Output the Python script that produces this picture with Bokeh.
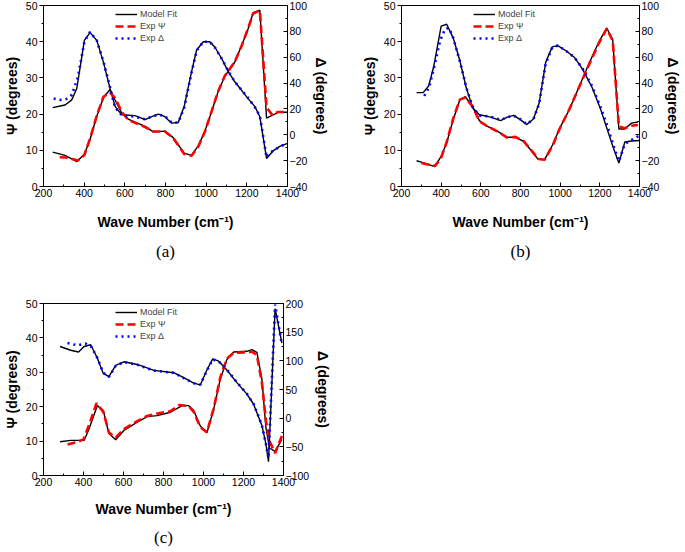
from bokeh.plotting import figure
from bokeh.models import Range1d, LinearAxis, SingleIntervalTicker, Legend, LegendItem, Title
from bokeh.layouts import row, column
from bokeh.embed import file_html
from bokeh.resources import INLINE

# ---------------- Panel (a) ----------------
a_psi_fit_x = [245, 306, 364, 401, 429, 462, 495, 527, 552, 585, 617, 650, 700, 740, 797, 838, 892, 928,
               961, 994, 1027, 1059, 1092, 1141, 1174, 1206, 1231, 1264, 1297, 1354, 1400]
a_psi_fit = [9.5, 8.6, 6.9, 8.9, 13.0, 19.4, 24.6, 26.8, 23.9, 20.3, 18.6, 17.8, 16.6, 15.1, 15.3, 13.5, 9.2, 8.6,
             11.2, 15.3, 20.7, 26.2, 30.5, 34.4, 38.9, 43.5, 48.0, 48.7, 18.9, 20.5, 20.5]
a_psi_exp_x = [280, 310, 340, 370, 401, 429, 462, 495, 527, 552, 585, 617, 650, 700, 740, 797, 838, 892, 928,
               961, 994, 1027, 1059, 1092, 1141, 1174, 1206, 1231, 1264, 1297, 1325, 1354, 1390]
a_psi_exp = [8.1, 8.0, 7.6, 7.2, 8.7, 13.2, 19.6, 24.8, 26.0, 24.4, 20.6, 18.4, 17.6, 16.4, 15.2, 15.2, 13.4, 9.0, 8.5,
             11.0, 15.2, 20.8, 26.3, 30.6, 34.5, 38.8, 43.6, 47.8, 48.6, 21.8, 19.8, 20.6, 20.6]
a_d_fit_x = [245, 306, 339, 364, 401, 429, 462, 495, 527, 552, 585, 650, 700, 732, 765, 797, 830, 863, 892, 928,
             953, 986, 1018, 1043, 1076, 1108, 1141, 1206, 1239, 1264, 1297, 1329, 1362, 1400]
a_d_fit = [21.0, 23.0, 27.0, 36.0, 73.0, 79.0, 73.0, 56.0, 36.0, 22.0, 15.5, 14.8, 11.7, 14.0, 16.0, 14.0, 9.0, 9.5,
           22.0, 48.6, 65.6, 72.0, 72.0, 67.7, 59.0, 49.0, 41.0, 28.0, 22.0, 14.0, -18.3, -12.5, -9.0, -6.6]
a_d_exp_x = [250, 280, 310, 340, 370, 401, 429, 462, 495, 527, 552, 585, 650, 700, 732, 765, 797, 830, 863, 892,
             928, 953, 986, 1018, 1043, 1076, 1108, 1141, 1206, 1239, 1264, 1297, 1329, 1362, 1390]
a_d_exp = [28.0, 27.0, 27.5, 31.0, 45.0, 72.0, 79.5, 73.0, 56.5, 37.0, 21.0, 15.0, 14.0, 12.0, 14.0, 15.5, 14.5, 9.5,
           9.5, 21.0, 48.0, 65.0, 72.0, 72.0, 67.5, 59.0, 49.5, 41.0, 28.5, 21.5, 14.5, -17.5, -12.0, -9.5, -7.0]

# ---------------- Panel (b) ----------------
b_psi_fit_x = [276, 309, 367, 400, 428, 461, 494, 522, 560, 593, 626, 683, 733, 774, 815, 856, 889, 922, 963,
               996, 1046, 1095, 1145, 1194, 1235, 1265, 1296, 1325, 1360, 1392]
b_psi_fit = [7.1, 6.6, 5.5, 8.3, 12.1, 18.5, 23.9, 24.8, 21.9, 18.2, 16.8, 15.3, 13.6, 13.6, 12.5, 9.8, 7.5, 7.5, 11.6,
             15.9, 21.2, 27.5, 33.9, 39.8, 43.8, 40.5, 15.9, 15.9, 17.5, 17.8]
b_psi_exp_x = [300, 340, 370, 400, 428, 461, 494, 522, 560, 593, 626, 683, 733, 774, 815, 856, 889, 922, 963,
               996, 1046, 1095, 1145, 1194, 1235, 1265, 1296, 1325, 1360, 1392]
b_psi_exp = [6.5, 6.0, 5.7, 8.0, 12.3, 18.8, 24.0, 24.6, 22.0, 18.0, 16.9, 15.2, 13.5, 13.7, 12.6, 9.9, 7.6, 7.4, 11.4,
             15.8, 21.3, 27.4, 33.6, 39.5, 43.6, 40.3, 16.6, 16.1, 16.8, 17.0]
b_d_fit_x = [276, 309, 337, 362, 400, 428, 461, 494, 527, 560, 593, 650, 700, 733, 766, 799, 832, 865, 894, 927,
             960, 988, 1029, 1071, 1112, 1161, 1202, 1235, 1268, 1296, 1326, 1360, 1400]
b_d_fit = [32.6, 32.6, 37.7, 52.4, 84.0, 85.5, 74.8, 57.5, 36.0, 20.6, 15.5, 13.7, 11.0, 13.7, 15.0, 11.7, 7.9, 12.2,
           24.4, 56.0, 68.0, 69.0, 65.0, 60.0, 51.0, 36.6, 20.6, 5.3, -10.0, -21.9, -5.6, -4.8, -4.4]
b_d_exp_x = [315, 340, 370, 395, 420, 440, 461, 494, 527, 560, 593, 650, 700, 733, 766, 799, 832, 865, 894, 927,
             960, 988, 1029, 1071, 1112, 1161, 1202, 1235, 1268, 1296, 1326, 1360, 1395]
b_d_exp = [30.0, 37.0, 56.0, 73.0, 82.0, 82.5, 74.8, 57.0, 36.5, 21.0, 15.0, 14.0, 11.5, 13.5, 14.8, 12.0, 8.2, 12.0,
           24.0, 55.0, 67.5, 69.0, 65.0, 60.0, 51.5, 37.5, 22.0, 8.0, -8.0, -20.5, -7.0, -4.0, -1.0]

# ---------------- Panel (c) ----------------
c_psi_fit_x = [283, 336, 403, 428, 469, 499, 527, 561, 602, 669, 718, 768, 835, 893, 926, 951, 984, 1017, 1051,
               1084, 1117, 1151, 1217, 1242, 1267, 1292, 1312, 1330, 1358, 1392]
c_psi_fit = [9.8, 10.2, 10.2, 13.6, 20.3, 18.9, 12.2, 10.4, 13.1, 15.5, 17.1, 17.4, 18.4, 20.3, 20.3, 18.9, 14.4, 12.4,
             19.3, 28.0, 33.7, 35.9, 36.1, 36.6, 35.8, 28.0, 14.0, 8.0, 7.0, 10.5]
c_psi_exp_x = [320, 370, 400, 430, 465, 499, 527, 561, 602, 669, 718, 760, 835, 880, 926, 951, 984, 1017, 1051,
               1084, 1117, 1151, 1217, 1242, 1267, 1292, 1312, 1330, 1358, 1392]
c_psi_exp = [9.0, 9.8, 10.5, 15.0, 21.0, 18.5, 12.5, 11.0, 13.5, 15.8, 17.3, 17.9, 18.7, 20.5, 20.2, 18.5, 14.0, 12.6,
             19.5, 28.5, 34.0, 35.7, 35.8, 36.0, 35.0, 27.0, 16.0, 10.0, 6.5, 11.5]
c_d_fit_x = [283, 336, 375, 403, 436, 469, 499, 527, 561, 602, 669, 752, 851, 901, 951, 984, 1017, 1046, 1076, 1117,
             1167, 1217, 1250, 1292, 1312, 1325, 1358, 1392]
c_d_fit = [125.0, 118.4, 115.5, 125.0, 128.0, 105.0, 78.0, 72.4, 92.0, 98.3, 93.7, 83.3, 79.3, 70.7, 61.0, 58.0, 84.0,
           103.4, 99.4, 84.0, 62.0, 42.0, 24.7, -12.6, -45.0, -76.0, 191.0, 131.0]
c_d_exp_x = [320, 370, 410, 440, 469, 499, 527, 561, 602, 669, 752, 851, 901, 951, 984, 1017, 1046, 1076, 1117,
             1167, 1217, 1250, 1292, 1312, 1325, 1358, 1392]
c_d_exp = [131.0, 127.0, 130.0, 124.0, 105.0, 79.0, 72.0, 91.0, 98.0, 93.0, 83.0, 79.0, 70.0, 61.0, 58.5, 83.0,
           102.5, 99.0, 84.5, 62.5, 42.5, 25.0, -12.0, -45.0, -70.0, 198.0, 128.0]

legend_labels = ["Model Fit", "Exp Ψ", "Exp Δ"]
x_label = "Wave Number (cm⁻¹)"
psi_label = "Ψ (degrees)"
delta_label = "Δ (degrees)"

SANS = "Liberation Sans"


def style_axis(ax, inward, label_standoff=3):
    ax.axis_line_color = "black"
    ax.major_tick_line_color = "black"
    ax.minor_tick_line_color = "black"
    if inward:
        ax.major_tick_in, ax.major_tick_out = 4, 0
        ax.minor_tick_in, ax.minor_tick_out = 2, 0
    else:
        ax.major_tick_in, ax.major_tick_out = 0, 4
        ax.minor_tick_in, ax.minor_tick_out = 0, 2
    ax.major_label_text_font = SANS
    ax.major_label_text_font_size = "10.5px"
    ax.major_label_text_color = "black"
    ax.axis_label_text_font = SANS
    ax.axis_label_text_font_size = "14px"
    ax.axis_label_text_font_style = "bold"
    ax.axis_label_text_color = "black"
    ax.major_label_standoff = 2
    ax.axis_label_standoff = label_standoff


def panel(tag, psx, ps, pex, pe, dsx, ds, dex, de, drange, dint, fw, fh, ml, mt, xstand, capstand, cap_off):
    p = figure(frame_width=fw, frame_height=fh, x_range=Range1d(200, 1400), y_range=Range1d(0, 50),
               output_backend="svg", toolbar_location=None,
               min_border_left=ml, min_border_right=10, min_border_top=mt, min_border_bottom=10)
    p.extra_y_ranges = {"d": Range1d(*drange)}
    p.xgrid.visible = False
    p.ygrid.visible = False
    p.outline_line_color = "black"
    p.outline_line_alpha = 1.0
    p.background_fill_color = "white"
    p.border_fill_color = "white"

    p.xaxis.ticker = SingleIntervalTicker(interval=200, num_minor_ticks=2)
    p.yaxis.ticker = SingleIntervalTicker(interval=10, num_minor_ticks=2)
    p.xaxis.axis_label = x_label
    p.yaxis.axis_label = psi_label
    style_axis(p.xaxis[0], True, xstand)
    style_axis(p.yaxis[0], False)

    rax = LinearAxis(y_range_name="d", axis_label=delta_label,
                     ticker=SingleIntervalTicker(interval=dint, num_minor_ticks=2))
    style_axis(rax, True)
    p.add_layout(rax, "right")

    fit1 = p.line(psx, ps, line_color="black", line_width=1.4)
    p.line(dsx, ds, line_color="black", line_width=1.4, y_range_name="d")
    r_psi = p.line(pex, pe, line_color="#ff0000", line_width=2.6, line_dash="8 4")
    r_d = p.line(dex, de, line_color="#0000ff", line_width=2.6, line_dash="2 4", y_range_name="d")

    leg = Legend(items=[LegendItem(label=legend_labels[0], renderers=[fit1]),
                        LegendItem(label=legend_labels[1], renderers=[r_psi]),
                        LegendItem(label=legend_labels[2], renderers=[r_d])],
                 location=(72, fh - 3 - 36), border_line_color=None, background_fill_alpha=0,
                 label_text_font=SANS, label_text_font_size="9px", label_height=12, glyph_height=12,
                 glyph_width=22, spacing=0, padding=0, margin=0, label_standoff=3)
    p.add_layout(leg, "center")

    cap = Title(text=tag, align="center", text_font="Liberation Serif", text_font_size="17px",
                text_font_style="normal", text_color="black", offset=cap_off, standoff=capstand)
    p.add_layout(cap, "below")
    return p


pa = panel("(a)", a_psi_fit_x, a_psi_fit, a_psi_exp_x, a_psi_exp, a_d_fit_x, a_d_fit, a_d_exp_x, a_d_exp,
           (-40, 100), 20, 244, 181, 34, 5, 14, 14, -7)
pb = panel("(b)", b_psi_fit_x, b_psi_fit, b_psi_exp_x, b_psi_exp, b_d_fit_x, b_d_fit, b_d_exp_x, b_d_exp,
           (-40, 100), 20, 238, 181, 69, 5, 14, 14, -6)
pc = panel("(c)", c_psi_fit_x, c_psi_fit, c_psi_exp_x, c_psi_exp, c_d_fit_x, c_d_fit, c_d_exp_x, c_d_exp,
           (-100, 200), 50, 240, 172, 34, 36, 12, 12, -6)

layout = column(row(pa, pb), pc)
open("out.html", "w").write(file_html(layout, INLINE))
